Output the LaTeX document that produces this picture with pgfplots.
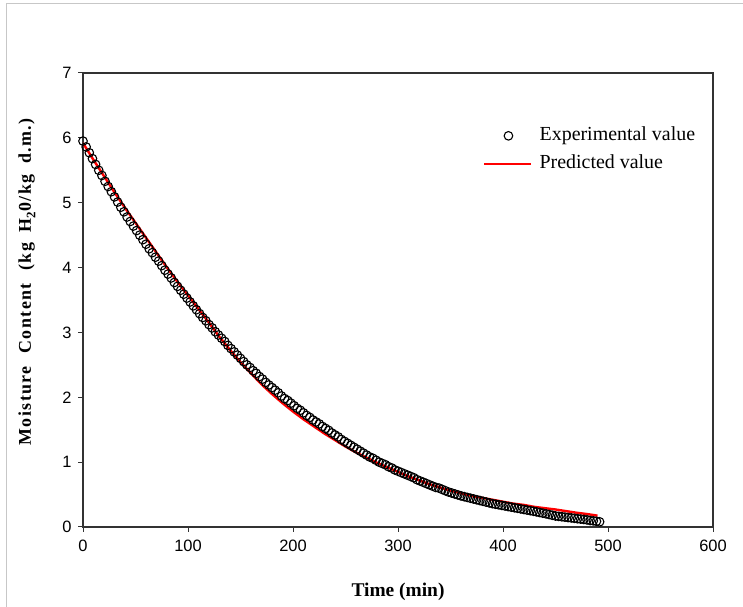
\documentclass[border=0pt]{standalone}
\usepackage{fontspec}
\setmainfont{Liberation Serif}
\newfontfamily\arial{Liberation Sans}
\newfontfamily\ylabfont[LetterSpace=8]{Liberation Serif}
\usepackage{pgfplots}
\pgfplotsset{compat=1.18}
\usepackage{pgfplotstable}
\pgfplotsset{
  expleg/.style={legend image code/.code={\draw[##1] plot coordinates {(24bp,0bp)};}},
  predleg/.style={legend image code/.code={\draw[##1] (0bp,0bp) -- (47bp,0bp);}},
}
\pgfplotstableread{
t M
0 5.95
3 5.86
6 5.77
9 5.68
12 5.59
15 5.50
18 5.42
21 5.33
24 5.25
27 5.17
30 5.09
33 5.01
36 4.93
39 4.86
42 4.78
45 4.71
48 4.64
51 4.57
54 4.50
57 4.43
60 4.36
63 4.29
66 4.23
69 4.16
72 4.10
75 4.03
78 3.96
81 3.90
84 3.84
87 3.77
90 3.71
93 3.65
96 3.59
99 3.53
102 3.47
105 3.41
108 3.35
111 3.29
114 3.23
117 3.18
120 3.12
123 3.07
126 3.01
129 2.96
132 2.91
135 2.86
138 2.80
141 2.75
144 2.70
147 2.65
150 2.60
153 2.55
156 2.50
159 2.46
162 2.41
165 2.37
168 2.32
171 2.28
174 2.23
177 2.19
180 2.15
183 2.11
186 2.07
189 2.02
192 1.98
195 1.95
198 1.91
201 1.87
204 1.83
207 1.80
210 1.76
213 1.72
216 1.69
219 1.65
222 1.62
225 1.59
228 1.55
231 1.52
234 1.49
237 1.45
240 1.42
243 1.39
246 1.35
249 1.32
252 1.29
255 1.26
258 1.23
261 1.20
264 1.17
267 1.14
270 1.11
273 1.08
276 1.06
279 1.03
282 1.00
285 0.98
288 0.96
291 0.93
294 0.91
297 0.88
300 0.86
303 0.84
306 0.82
309 0.80
312 0.78
315 0.76
318 0.73
321 0.71
324 0.69
327 0.67
330 0.65
333 0.63
336 0.61
339 0.60
342 0.58
345 0.56
348 0.54
351 0.525
354 0.51
357 0.495
360 0.48
363 0.468
366 0.456
369 0.444
372 0.432
375 0.42
378 0.408
381 0.396
384 0.384
387 0.372
390 0.36
393 0.351
396 0.342
399 0.333
402 0.324
405 0.315
408 0.306
411 0.297
414 0.288
417 0.279
420 0.27
423 0.261
426 0.252
429 0.243
432 0.233
435 0.223
438 0.213
441 0.203
444 0.192
447 0.181
450 0.17
453 0.164
456 0.158
459 0.152
462 0.146
465 0.14
468 0.134
471 0.128
474 0.122
477 0.116
480 0.11
483 0.10
486 0.095
489 0.088
492 0.08
}\exptab
\pgfplotstableread{
t M
0 5.92
10 5.66
20 5.41
30 5.16
40 4.92
50 4.69
60 4.46
70 4.23
80 4.00
90 3.78
100 3.57
110 3.36
120 3.15
130 2.93
140 2.73
150 2.54
160 2.37
170 2.20
180 2.05
190 1.91
200 1.78
210 1.66
220 1.55
230 1.44
240 1.34
250 1.24
260 1.15
270 1.07
280 0.99
290 0.92
300 0.85
310 0.78
320 0.72
330 0.66
340 0.61
350 0.56
360 0.52
370 0.48
380 0.45
390 0.42
400 0.39
410 0.36
420 0.34
430 0.31
440 0.29
450 0.27
460 0.245
470 0.22
480 0.20
490 0.175
}\predtab
\begin{document}
\begin{tikzpicture}[x=1bp,y=1bp]
\path[use as bounding box] (0,0) rectangle (743,607);
\draw[black!22, line width=1bp] (6,0) -- (6,603) -- (743,603);
\begin{axis}[
  at={(83bp,80bp)}, anchor=south west,
  scale only axis, width=630bp, height=454bp,
  xmin=0, xmax=600, ymin=0, ymax=7,
  xtick={0,100,...,600}, ytick={0,1,...,7},
  tick pos=left, tick align=outside,
  major tick length=5bp,
  axis line style={black!80, line width=1.1bp},
  tick style={black!80, line width=1bp},
  /pgf/number format/assume math mode=true,
  ticklabel style={font=\arial\fontsize{16.5}{16.5}\selectfont, black},
  xticklabel style={yshift=-5bp},
  yticklabel style={xshift=-3bp},
  xlabel={\textbf{Time (min)}},
  ylabel={\ylabfont\bfseries Moisture\hspace{0.7em}Content\hspace{0.7em}(kg\hspace{0.6em}H\raisebox{-0.25em}{\fontsize{13}{13}\selectfont 2}0/kg\hspace{0.6em}d.m.)},
  xlabel style={font=\fontsize{19.5}{19.5}\selectfont, at={(axis description cs:0.5,0)}, anchor=base, yshift=-70bp},
  ylabel style={font=\fontsize{18}{18}\selectfont, at={(axis description cs:-0.089,0.54)}, anchor=center},
  legend style={at={(axis cs:381,6.25)}, anchor=north west, draw=none, fill=none,
    inner sep=0pt, column sep=5bp, font=\fontsize{20}{20}\selectfont,
    nodes={text height=13bp, text depth=4bp, inner ysep=5.5bp}},
  legend cell align=left,
]
\addplot[only marks, mark=o, mark size=4.3bp, mark options={black, line width=1.1bp, fill=white}, expleg]
  table[x=t, y=M] {\exptab};
\addlegendentry{Experimental value}
\addplot[red, line width=2.4bp, no marks, predleg]
  table[x=t, y=M] {\predtab};
\addlegendentry{Predicted value}
\end{axis}
\end{tikzpicture}
\end{document}
